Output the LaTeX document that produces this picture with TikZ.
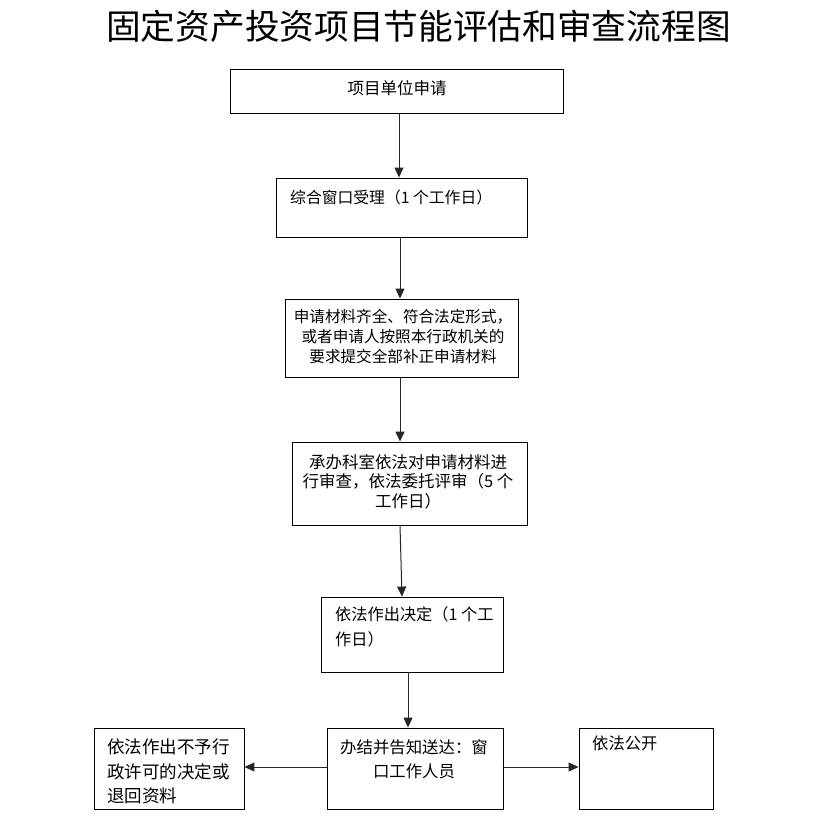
\documentclass[tikz,border=0pt]{standalone}
\usepackage{fontspec}
\newfontfamily\cjk{Noto Sans CJK SC}
\usetikzlibrary{arrows.meta}
\tikzset{
  box/.style={draw=black, line width=0.9pt, rectangle, inner sep=0pt},
  txt/.style={inner sep=0pt, font=\cjk\fontsize{15}{20}\selectfont},
  arr/.style={draw=black!85, line width=1pt, -{Triangle[width=9pt,length=10pt]}}
}
\begin{document}
\begin{tikzpicture}[x=1pt,y=-1pt]
\useasboundingbox (0,0) rectangle (828,816);
\node[inner sep=0pt, font=\cjk\fontsize{34.7}{40}\selectfont] (title) at (418.5,26) {固定资产投资项目节能评估和审查流程图};
% boxes
\node[box, minimum width=333, minimum height=44] (b1) at (396.5,91) {};
\node[box, minimum width=251, minimum height=59] (b2) at (401.5,207.5) {};
\node[box, minimum width=233, minimum height=78] (b3) at (401.5,338) {};
\node[box, minimum width=235, minimum height=83] (b4) at (409.5,483.5) {};
\node[box, minimum width=182, minimum height=75] (b5) at (412,634.5) {};
\node[box, minimum width=176, minimum height=81] (b6) at (415,768.5) {};
\node[box, minimum width=150, minimum height=81] (b7) at (169,768.5) {};
\node[box, minimum width=134, minimum height=81] (b8) at (646,768.5) {};
% texts
\node[txt, font=\cjk\fontsize{16.5}{20}\selectfont] (t1) at (397,88) {项目单位申请};
\node[txt, anchor=west, font=\cjk\fontsize{15.8}{20}\selectfont] (t2) at (290,197) {综合窗口受理（1 个工作日）};
\node[txt, align=center, anchor=north, font=\cjk\fontsize{15.6}{20}\selectfont] (t3) at (403,309.5) {申请材料齐全、符合法定形式，\\或者申请人按照本行政机关的\\要求提交全部补正申请材料};
\node[txt, align=center, anchor=north, font=\cjk\fontsize{16.5}{19.5}\selectfont] (t4) at (408,454) {承办科室依法对申请材料进\\行审查，依法委托评审（5 个\\工作日）};
\node[txt, align=left, anchor=north west, font=\cjk\fontsize{16.2}{25}\selectfont] (t5) at (335,606.5) {依法作出决定（1 个工\\作日）};
\node[txt, align=center, anchor=north, font=\cjk\fontsize{16.4}{24}\selectfont] (t6) at (414,739.5) {办结并告知送达：窗\\口工作人员};
\node[txt, align=left, anchor=north west, font=\cjk\fontsize{17.5}{24.5}\selectfont] (t7) at (107,739) {依法作出不予行\\政许可的决定或\\退回资料};
\node[txt, anchor=west, font=\cjk\fontsize{16.3}{20}\selectfont] (t8) at (592,743) {依法公开};
% connectors
\draw[arr] ([xshift=2.5]b1.south) -- ([xshift=2.5]b1.south |- b2.north);
\draw[arr] ([xshift=-1.5]b2.south) -- ([xshift=-1.5]b2.south |- b3.north);
\draw[arr] ([xshift=-1.5]b3.south) -- ([xshift=-1.5]b3.south |- b4.north);
\draw[arr] ([xshift=-9.5]b4.south) -- ([xshift=-10]b5.north);
\draw[arr] ([xshift=-4]b5.south) -- ([xshift=-4]b5.south |- b6.north);
\draw[arr] ([yshift=1.5]b6.west) -- ([yshift=1.5]b7.east);
\draw[arr] ([yshift=1.5]b6.east) -- ([yshift=1.5]b8.west);
\end{tikzpicture}
\end{document}
